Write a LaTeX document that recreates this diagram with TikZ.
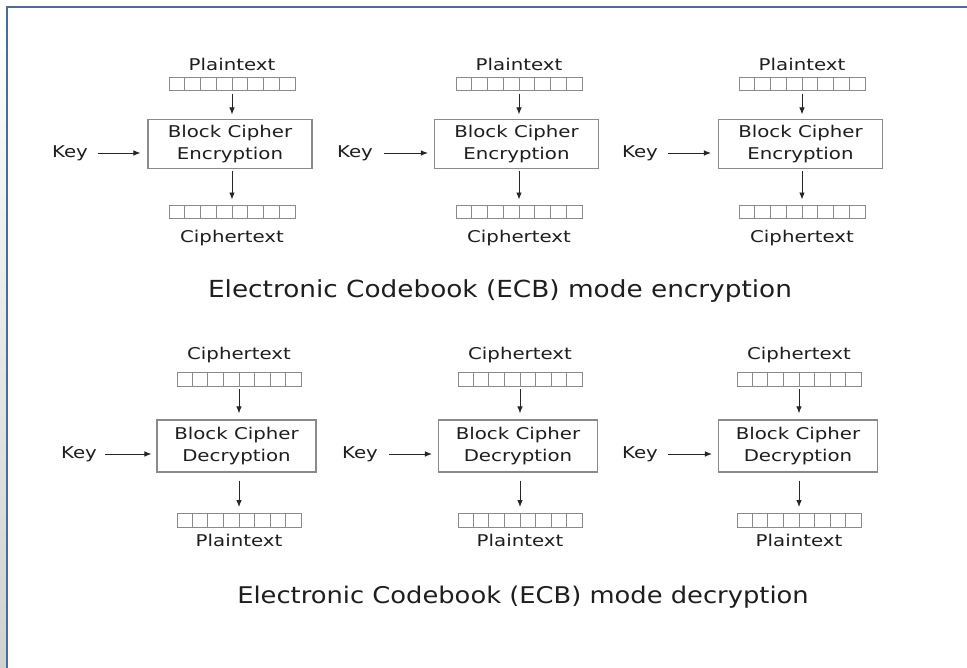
\documentclass[tikz,border=0pt]{standalone}
\usepackage{fontspec}
\setmainfont{DejaVu Sans}
\newfontfamily\lblfont{DejaVu Sans}[FakeStretch=1.22]
\newfontfamily\capfont{DejaVu Sans}[FakeStretch=1.12]
\usetikzlibrary{calc,arrows.meta}
\definecolor{frameblue}{HTML}{4A6B9C}
\definecolor{inkgray}{HTML}{1E1E1E}
\definecolor{edgegray}{HTML}{8A8A8A}
\tikzset{
  lbl/.style={font=\lblfont\fontsize{16.2}{22}\selectfont, text=inkgray, inner sep=0pt},
  blockbar/.style={draw=edgegray, line width=0.9pt, minimum width=126, minimum height=13, inner sep=0pt},
  cellline/.style={draw=edgegray, line width=0.9pt},
  cipherbox/.style={draw=edgegray, line width=1.1pt, align=center, inner sep=0pt,
    font=\lblfont\fontsize{16.2}{22}\selectfont, text=inkgray},
  flow/.style={draw=black!85, line width=0.9pt, -{Latex[length=7pt,width=5.5pt]}},
  caption/.style={font=\capfont\fontsize{23.5}{28}\selectfont, text=inkgray, inner sep=0pt}
}
% vertical dividers splitting a block into eight cells
\newcommand\barcells[1]{%
  \foreach \k in {1,...,7}{%
    \draw[cellline] ($(#1.north west)!\k/8!(#1.north east)$) -- ($(#1.south west)!\k/8!(#1.south east)$);}}
\begin{document}
\begin{tikzpicture}[x=1pt,y=-1pt]
\useasboundingbox (0,0) rectangle (967,668);
\fill[white] (0,0) rectangle (967,668);
% page edge
\shade[top color=white, bottom color=black!18] (0,0) rectangle (6,668);
\draw[frameblue, line width=2pt] (7,668) -- (7,7) -- (967,7);

% ---------- encryption ----------
\foreach \n/\bx/\cx/\kx/\ks/\ke in {1/232/230/70/10/7, 2/519/516.5/355/11/6, 3/802/800.5/640/10/7}{
  \node[lbl] (ptl\n) at (\bx,64) {Plaintext};
  \node[blockbar] (ptb\n) at (\bx,83.5) {};
  \barcells{ptb\n}
  \node[cipherbox, minimum width=164, minimum height=49] (enc\n) at (\cx,144) {Block Cipher\\Encryption};
  \node[blockbar] (ctb\n) at (\bx,211.5) {};
  \barcells{ctb\n}
  \node[lbl] (ctl\n) at (\bx,238) {Ciphertext};
  \node[lbl] (key\n) at (\kx,153) {Key};
  \draw[flow, shorten <=3.5pt, shorten >=4.5pt] (ptb\n.south) -- (ptb\n.south |- enc\n.north);
  \draw[flow, shorten <=2pt, shorten >=5pt] (ptb\n.south |- enc\n.south) -- (ctb\n.north);
  \draw[flow, shorten <=\ks pt, shorten >=\ke pt] (key\n.east) -- (key\n.east -| enc\n.west);
}
\node[caption] (capenc) at (500,291) {Electronic Codebook (ECB) mode encryption};

% ---------- decryption ----------
\foreach \n/\bx/\cx/\kx/\ks/\ke in {1/239/236.5/79/8/5, 2/520/518/360/11/6, 3/799/798/640/10/6}{
  \node[lbl] (dcl\n) at (\bx,355) {Ciphertext};
  \node[blockbar, minimum width=124, minimum height=14] (dcb\n) at (\bx,379) {};
  \barcells{dcb\n}
  \node[cipherbox, minimum width=159, minimum height=52] (dec\n) at (\cx,446) {Block Cipher\\Decryption};
  \node[blockbar, minimum width=124, minimum height=14] (dpb\n) at (\bx,520.5) {};
  \barcells{dpb\n}
  \node[lbl] (dpl\n) at (\bx,540) {Plaintext};
  \node[lbl] (dkey\n) at (\kx,454) {Key};
  \draw[flow, shorten <=2.5pt, shorten >=6pt] (dcb\n.south) -- (dcb\n.south |- dec\n.north);
  \draw[flow, shorten <=8pt, shorten >=6pt] (dcb\n.south |- dec\n.south) -- (dpb\n.north);
  \draw[flow, shorten <=\ks pt, shorten >=\ke pt] (dkey\n.east) -- (dkey\n.east -| dec\n.west);
}
\node[caption, font=\capfont\fontsize{23}{28}\selectfont] (capdec) at (523,597) {Electronic Codebook (ECB) mode decryption};
\end{tikzpicture}
\end{document}
